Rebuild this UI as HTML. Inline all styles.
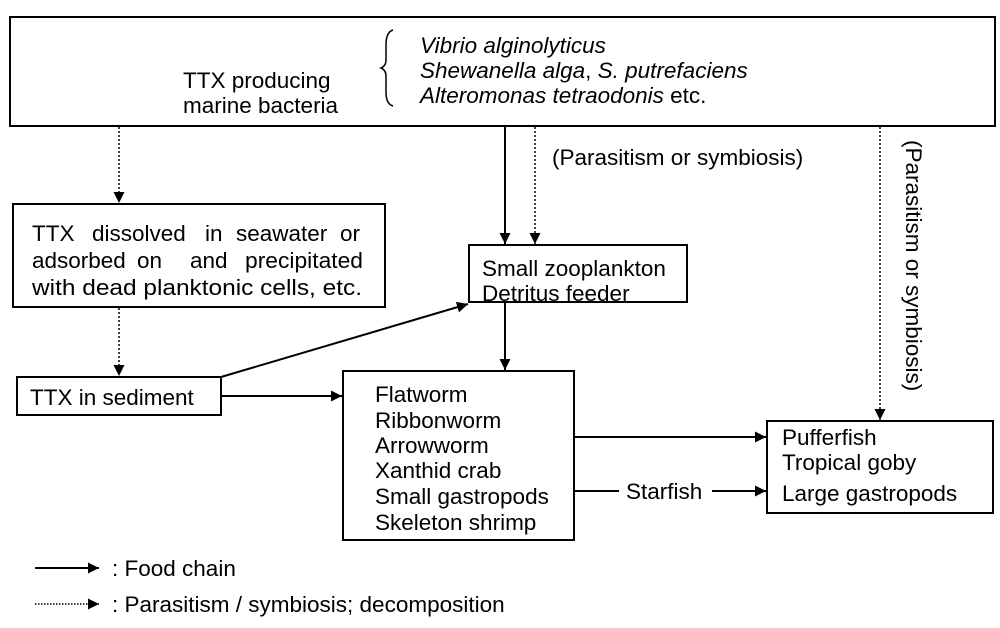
<!DOCTYPE html>
<html><head><meta charset="utf-8"><style>
body{margin:0;background:#fff}
svg text{font-family:"Liberation Sans",Arial,sans-serif;font-size:22.5px;fill:#000}
</style></head><body>
<svg width="1000" height="623" viewBox="0 0 1000 623" xmlns="http://www.w3.org/2000/svg">
<defs>
<marker id="a" viewBox="0 0 10 10" refX="10" refY="5" markerWidth="12" markerHeight="11" markerUnits="userSpaceOnUse" orient="auto"><path d="M0,0L10,5L0,10z" fill="#000"/></marker>
</defs>
<g fill="none" stroke="#000" stroke-width="2">
<rect x="10" y="17" width="985" height="109"/>
<rect x="13" y="204" width="372" height="103"/>
<rect x="469" y="245" width="218" height="57"/>
<rect x="17" y="377" width="204" height="38"/>
<rect x="343" y="371" width="231" height="169"/>
<rect x="767" y="421" width="226" height="92"/>
<path d="M393,30 Q386,32 386,45 L386,60 Q386,66 381,68 Q386,70 386,76 L386,92 Q386,104 393,106" stroke-width="1.5"/>
</g>
<g stroke="#000" stroke-width="1.5" fill="none">
<line x1="119" y1="127" x2="119" y2="203" stroke-dasharray="2,2" marker-end="url(#a)"/>
<line x1="119" y1="308" x2="119" y2="376" stroke-dasharray="2,2" marker-end="url(#a)"/>
<line x1="505" y1="127" x2="505" y2="244" stroke-width="2" marker-end="url(#a)"/>
<line x1="535" y1="127" x2="535" y2="244" stroke-dasharray="2,2" marker-end="url(#a)"/>
<line x1="880" y1="127" x2="880" y2="420" stroke-dasharray="2,2" marker-end="url(#a)"/>
<line x1="221" y1="377" x2="468" y2="304" stroke-width="2" marker-end="url(#a)"/>
<line x1="222" y1="396" x2="342" y2="396" stroke-width="2" marker-end="url(#a)"/>
<line x1="505" y1="303" x2="505" y2="370" stroke-width="2" marker-end="url(#a)"/>
<line x1="575" y1="437" x2="766" y2="437" stroke-width="2" marker-end="url(#a)"/>
<line x1="575" y1="491" x2="619" y2="491" stroke-width="2"/>
<line x1="712" y1="491" x2="766" y2="491" stroke-width="2" marker-end="url(#a)"/>
<line x1="35" y1="568" x2="99" y2="568" stroke-width="2" marker-end="url(#a)"/>
<line x1="35" y1="604" x2="99" y2="604" stroke-dasharray="1.5,1.5" marker-end="url(#a)"/>
</g>
<text x="183" y="88">TTX producing</text>
<text x="183" y="113">marine bacteria</text>
<text x="420" y="53" font-style="italic">Vibrio alginolyticus</text>
<text x="420" y="78"><tspan font-style="italic">Shewanella alga</tspan>, <tspan font-style="italic">S. putrefaciens</tspan></text>
<text x="420" y="103"><tspan font-style="italic">Alteromonas tetraodonis</tspan> etc.</text>
<text x="552" y="165">(Parasitism or symbiosis)</text>
<text y="241"><tspan x="32">TTX</tspan><tspan x="92">dissolved</tspan><tspan x="205">in</tspan><tspan x="236">seawater</tspan><tspan x="340">or</tspan></text>
<text y="268"><tspan x="32">adsorbed</tspan><tspan x="137">on</tspan><tspan x="190">and</tspan><tspan x="245" textLength="118" lengthAdjust="spacingAndGlyphs">precipitated</tspan></text>
<text x="32" y="295" textLength="330" lengthAdjust="spacingAndGlyphs">with dead planktonic cells, etc.</text>
<text x="482" y="276">Small zooplankton</text>
<text x="482" y="301">Detritus feeder</text>
<text x="30" y="405">TTX in sediment</text>
<text x="375" y="402">Flatworm</text>
<text x="375" y="428">Ribbonworm</text>
<text x="375" y="453">Arrowworm</text>
<text x="375" y="478">Xanthid crab</text>
<text x="375" y="504">Small gastropods</text>
<text x="375" y="530">Skeleton shrimp</text>
<text x="626" y="499">Starfish</text>
<text x="782" y="445">Pufferfish</text>
<text x="782" y="470">Tropical goby</text>
<text x="782" y="501">Large gastropods</text>
<text transform="translate(906,140) rotate(90)">(Parasitism or symbiosis)</text>
<text x="112" y="576">: Food chain</text>
<text x="112" y="612">: Parasitism / symbiosis; decomposition</text>
</svg>
</body></html>
